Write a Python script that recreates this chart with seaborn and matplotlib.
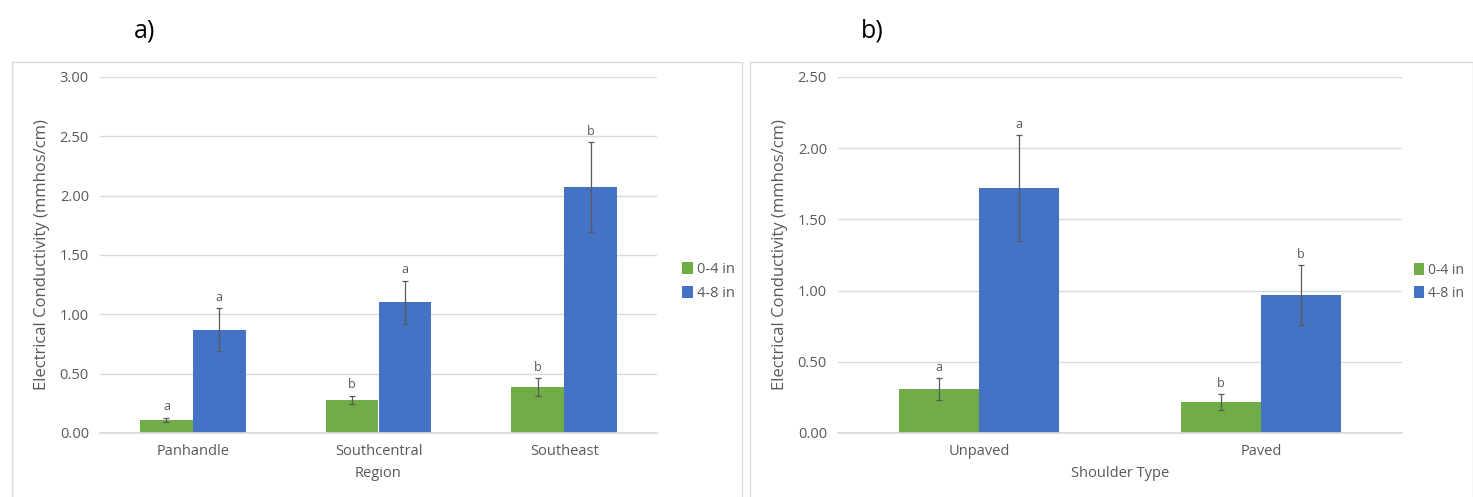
import numpy as np
import pandas as pd
import matplotlib
matplotlib.use("Agg")
import matplotlib.pyplot as plt
from matplotlib.patches import Rectangle
import seaborn as sns

# ---- data ----
regions = ["Panhandle", "Southcentral", "Southeast"]
region_0_4 = [0.11, 0.28, 0.39]
region_4_8 = [0.87, 1.10, 2.07]
region_err_0_4 = [0.02, 0.035, 0.075]
region_err_4_8 = [0.18, 0.185, 0.38]
region_let_0_4 = ["a", "b", "b"]
region_let_4_8 = ["a", "a", "b"]

shoulders = ["Unpaved", "Paved"]
shoulder_0_4 = [0.31, 0.22]
shoulder_4_8 = [1.72, 0.97]
shoulder_err_0_4 = [0.075, 0.055]
shoulder_err_4_8 = [0.37, 0.21]
shoulder_let_0_4 = ["a", "b"]
shoulder_let_4_8 = ["a", "b"]

depths = ["0-4 in", "4-8 in"]
colors = ["#70AD47", "#4472C4"]

sns.set_theme(style="white")
plt.rcParams['font.family'] = ['Open Sans', 'DejaVu Sans']

W, H = 1473, 497
fig = plt.figure(figsize=(W / 100, H / 100), dpi=100)

# chart-area frames
for (x0, x1) in [(12, 742), (750, 1473)]:
    fig.patches.append(Rectangle((x0 / W, -0.01), (x1 - x0) / W, (H - 62) / H + 0.01,
                                 transform=fig.transFigure, fill=False,
                                 edgecolor="#d9d9d9", linewidth=1))

grey = "#595959"


def panel(rect, cats, v1, v2, e1, e2, l1, l2, ymax, xlabel, leg_x, leg_fs):
    ax = fig.add_axes(rect)
    df = pd.DataFrame({
        "cat": cats * 2,
        "val": list(v1) + list(v2),
        "depth": [depths[0]] * len(cats) + [depths[1]] * len(cats),
    })
    sns.barplot(data=df, x="cat", y="val", hue="depth", palette=colors,
                width=0.57, gap=0, errorbar=None, linewidth=0, ax=ax,
                saturation=1)
    for cont, errs, lets in zip(ax.containers, [e1, e2], [l1, l2]):
        for bar, err, let in zip(cont, errs, lets):
            xc = bar.get_x() + bar.get_width() / 2
            h = bar.get_height()
            ax.errorbar(xc, h, yerr=err, color="#595959", elinewidth=0.9,
                        capsize=2.5, capthick=0.9, zorder=5)
            ax.annotate(let, (xc, h + err), xytext=(0, 3),
                        textcoords="offset points", ha="center", va="bottom",
                        fontsize=9, color=grey)
    ax.set_ylim(0, ymax)
    ax.set_xlim(-0.5, len(cats) - 0.5)
    ax.set_yticks(np.arange(0, ymax + 0.001, 0.5))
    ax.set_yticklabels([f"{t:.2f}" for t in np.arange(0, ymax + 0.001, 0.5)])
    ax.yaxis.grid(True, color="#d9d9d9", linewidth=1)
    ax.set_axisbelow(True)
    for s in ["top", "right", "left"]:
        ax.spines[s].set_visible(False)
    ax.spines["bottom"].set_color("#d9d9d9")
    ax.tick_params(axis="both", length=0, labelsize=10.5, colors=grey, pad=8)
    ax.set_xlabel(xlabel, fontsize=10.5, color=grey, labelpad=5)
    ax.set_ylabel("Electrical Conductivity (mmhos/cm)", fontsize=12,
                  color=grey, labelpad=7)
    ax.legend(loc="center left", bbox_to_anchor=(leg_x, 0.425), frameon=False,
              handlelength=0.7, handleheight=0.9, handletextpad=0.3,
              labelspacing=0.6, fontsize=leg_fs, labelcolor=grey, borderaxespad=0)
    return ax


bot = (H - 433) / H
hgt = 356 / H
panel([100 / W, bot, 557 / W, hgt], regions, region_0_4, region_4_8,
      region_err_0_4, region_err_4_8, region_let_0_4, region_let_4_8,
      3.0, "Region", 1.035, 10.5)
panel([838 / W, bot, 564 / W, hgt], shoulders, shoulder_0_4, shoulder_4_8,
      shoulder_err_0_4, shoulder_err_4_8, shoulder_let_0_4, shoulder_let_4_8,
      2.5, "Shoulder Type", 1.012, 10)

fig.text(145 / W, 1 - 31 / H, "a)", fontsize=18, ha="center", va="center", color="black")
fig.text(872 / W, 1 - 31 / H, "b)", fontsize=18, ha="center", va="center", color="black")

fig.savefig("out.png", dpi=100, facecolor="white")
